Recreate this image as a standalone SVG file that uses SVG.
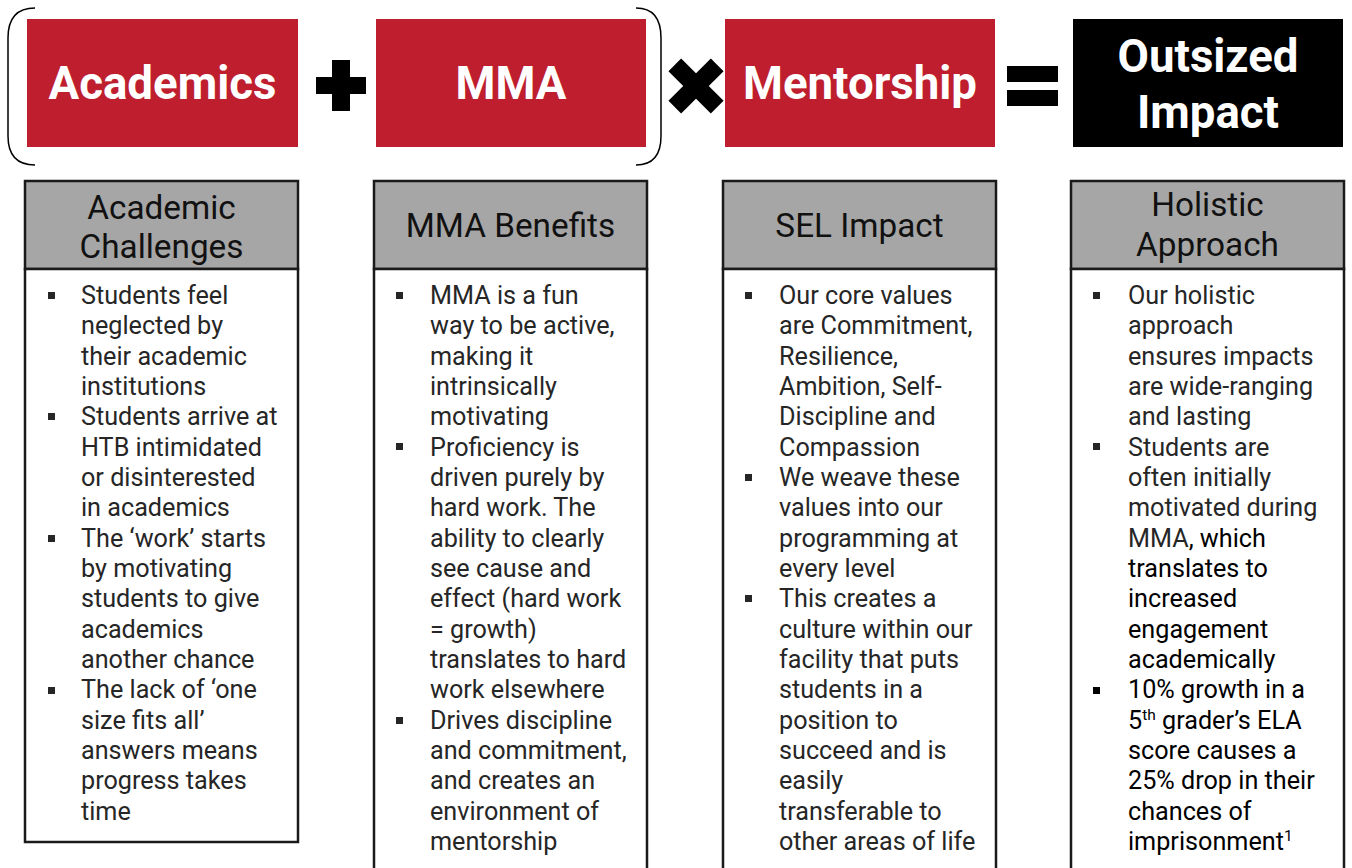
<svg xmlns="http://www.w3.org/2000/svg" width="1352" height="868" viewBox="0 0 1352 868">
<style>
.red{fill:#be1e2d}
.blk{fill:#000}
.title{font-family:Roboto,"Liberation Sans",sans-serif;font-weight:bold;font-size:45.6px;fill:#fff;text-anchor:middle}
.hdr{fill:#a6a6a6;stroke:#1a1a1a;stroke-width:2.5}
.body{fill:#fff;stroke:#1a1a1a;stroke-width:2.5}
.ht{font-family:Roboto,"Liberation Sans",sans-serif;font-size:33.3px;fill:#111;text-anchor:middle}
.bt{font-family:Roboto,"Liberation Sans",sans-serif;font-size:25.2px;fill:#262626}
.bk{fill:#000}
.bul{fill:#262626}
.brk{fill:none;stroke:#000;stroke-width:1.5}
</style>
<rect width="1352" height="868" fill="#fff"/>
<g id="connectors">
<path class="brk" d="M35,8 Q8,8 8,38 L8,136 Q8,165 35,165"/>
<path class="brk" d="M636,8 Q661,8 661,38 L661,136 Q661,165 636,165"/>
<path id="plus" class="blk" d="M332,60 H350 V77 H366 V94 H350 V111 H332 V94 H316 V77 H332 Z"/>
<g id="times" transform="translate(696,86) rotate(45)">
<rect class="blk" x="-30" y="-9" width="60" height="18"/>
<rect class="blk" x="-9" y="-30" width="18" height="60"/>
</g>
<rect class="blk" x="1007" y="66" width="51" height="16"/>
<rect class="blk" x="1007" y="90" width="51" height="16"/>
</g>
<g id="academics"><rect class="red" x="27" y="19" width="271" height="128"/><text class="title" x="162.5" y="99">Academics</text></g>
<g id="mma"><rect class="red" x="376" y="19" width="270" height="128"/><text class="title" x="511" y="99">MMA</text></g>
<g id="mentorship"><rect class="red" x="725" y="19" width="270" height="128"/><text class="title" x="860" y="99">Mentorship</text></g>
<g id="outsized"><rect class="blk" x="1073" y="19" width="270" height="128"/><text class="title" x="1208" y="72">Outsized</text><text class="title" x="1208" y="128">Impact</text></g>

<g id="col1">
<rect class="hdr" x="25" y="181" width="273" height="88"/>
<rect class="body" x="25" y="269" width="273" height="573"/>
<text class="ht" x="161.5" y="219">Academic</text><text class="ht" x="161.5" y="258">Challenges</text>
<rect class="bul" x="48" y="292" width="7" height="7"/>
<rect class="bul" x="48" y="413" width="7" height="7"/>
<rect class="bul" x="48" y="535" width="7" height="7"/>
<rect class="bul" x="48" y="687" width="7" height="7"/>
<text class="bt">
<tspan x="81" y="304">Students feel</tspan><tspan x="81" y="334.3">neglected by</tspan><tspan x="81" y="364.7">their academic</tspan><tspan x="81" y="395">institutions</tspan>
<tspan x="81" y="425.3">Students arrive at</tspan><tspan x="81" y="455.7">HTB intimidated</tspan><tspan x="81" y="486">or disinterested</tspan><tspan x="81" y="516.3">in academics</tspan>
<tspan x="81" y="546.7">The ‘work’ starts</tspan><tspan x="81" y="577">by motivating</tspan><tspan x="81" y="607.3">students to give</tspan><tspan x="81" y="637.7">academics</tspan><tspan x="81" y="668">another chance</tspan>
<tspan x="81" y="698.3">The lack of ‘one</tspan><tspan x="81" y="728.7">size fits all’</tspan><tspan x="81" y="759">answers means</tspan><tspan x="81" y="789.3">progress takes</tspan><tspan x="81" y="819.7">time</tspan>
</text>
</g>

<g id="col2">
<rect class="hdr" x="374" y="181" width="273" height="88"/>
<rect class="body" x="374" y="269" width="273" height="605"/>
<text class="ht" x="510.5" y="237">MMA Benefits</text>
<rect class="bul" x="396" y="292" width="7" height="7"/>
<rect class="bul" x="396" y="443" width="7" height="7"/>
<rect class="bul" x="396" y="717" width="7" height="7"/>
<text class="bt">
<tspan x="430" y="304">MMA is a fun</tspan><tspan x="430" y="334.3">way to be active,</tspan><tspan x="430" y="364.7">making it</tspan><tspan x="430" y="395">intrinsically</tspan><tspan x="430" y="425.3">motivating</tspan>
<tspan x="430" y="455.7">Proficiency is</tspan><tspan x="430" y="486">driven purely by</tspan><tspan x="430" y="516.3">hard work. The</tspan><tspan x="430" y="546.7">ability to clearly</tspan><tspan x="430" y="577">see cause and</tspan><tspan x="430" y="607.3">effect (hard work</tspan><tspan x="430" y="637.7">= growth)</tspan><tspan x="430" y="668">translates to hard</tspan><tspan x="430" y="698.3">work elsewhere</tspan>
<tspan x="430" y="728.7">Drives discipline</tspan><tspan x="430" y="759">and commitment,</tspan><tspan x="430" y="789.3">and creates an</tspan><tspan x="430" y="819.7">environment of</tspan><tspan x="430" y="850">mentorship</tspan>
</text>
</g>

<g id="col3">
<rect class="hdr" x="723" y="181" width="273" height="88"/>
<rect class="body" x="723" y="269" width="273" height="605"/>
<text class="ht" x="859.5" y="237">SEL Impact</text>
<rect class="bul" x="745" y="292" width="7" height="7"/>
<rect class="bul" x="745" y="474" width="7" height="7"/>
<rect class="bul" x="745" y="595" width="7" height="7"/>
<text class="bt">
<tspan x="779" y="304">Our core values</tspan><tspan x="779" y="334.3">are Commitment,</tspan><tspan x="779" y="364.7">Resilience,</tspan><tspan x="779" y="395">Ambition, Self-</tspan><tspan x="779" y="425.3">Discipline and</tspan><tspan x="779" y="455.7">Compassion</tspan>
<tspan x="779" y="486">We weave these</tspan><tspan x="779" y="516.3">values into our</tspan><tspan x="779" y="546.7">programming at</tspan><tspan x="779" y="577">every level</tspan>
<tspan x="779" y="607.3">This creates a</tspan><tspan x="779" y="637.7">culture within our</tspan><tspan x="779" y="668">facility that puts</tspan><tspan x="779" y="698.3">students in a</tspan><tspan x="779" y="728.7">position to</tspan><tspan x="779" y="759">succeed and is</tspan><tspan x="779" y="789.3">easily</tspan><tspan x="779" y="819.7">transferable to</tspan><tspan x="779" y="850">other areas of life</tspan>
</text>
</g>

<g id="col4">
<rect class="hdr" x="1071" y="181" width="273" height="88"/>
<rect class="body" x="1071" y="269" width="273" height="605"/>
<text class="ht" x="1207.5" y="216">Holistic</text><text class="ht" x="1207.5" y="256">Approach</text>
<rect class="bul" x="1093" y="292" width="7" height="7"/>
<rect class="bul" x="1093" y="443" width="7" height="7"/>
<rect class="bk" x="1093" y="687" width="7" height="7"/>
<text class="bt">
<tspan x="1128" y="304">Our holistic</tspan><tspan x="1128" y="334.3">approach</tspan><tspan x="1128" y="364.7">ensures impacts</tspan><tspan x="1128" y="395">are wide-ranging</tspan><tspan x="1128" y="425.3">and lasting</tspan>
<tspan x="1128" y="455.7">Students are</tspan><tspan x="1128" y="486">often initially</tspan><tspan x="1128" y="516.3">motivated during</tspan><tspan x="1128" y="546.7">MMA<tspan class="bk">, which</tspan></tspan>
</text>
<text class="bt" style="fill:#000">
<tspan x="1128" y="577">translates to</tspan><tspan x="1128" y="607.3">increased</tspan><tspan x="1128" y="637.7">engagement</tspan><tspan x="1128" y="668">academically</tspan>
<tspan x="1128" y="698.3">10% growth in a</tspan><tspan x="1128" y="728.7">5<tspan font-size="15.5" dy="-9">th</tspan><tspan dy="9"> grader’s ELA</tspan></tspan><tspan x="1128" y="759">score causes a</tspan><tspan x="1128" y="789.3">25% drop in their</tspan><tspan x="1128" y="819.7">chances of</tspan><tspan x="1128" y="850">imprisonment<tspan font-size="15.5" dy="-9">1</tspan></tspan>
</text>
</g>
</svg>
